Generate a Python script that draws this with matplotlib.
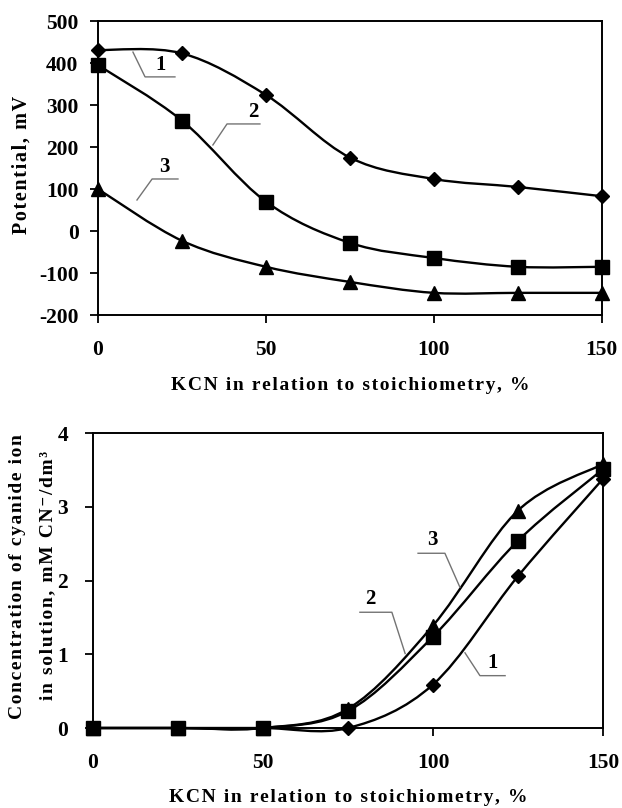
import numpy as np
import matplotlib
matplotlib.use("Agg")
import matplotlib.pyplot as plt
from matplotlib.path import Path
from matplotlib.patches import PathPatch

# data
kcn = [0, 25, 50, 75, 100, 125, 150]
potential_1 = [431, 423, 324, 175, 124, 105, 83]
potential_2 = [395, 263, 70, -28, -64, -85, -85]
potential_3 = [100, -23, -85, -121, -147, -147, -147]
cyanide_1 = [0, 0, 0, 0, 0.59, 2.06, 3.38]
cyanide_2 = [0, 0, 0, 0.23, 1.24, 2.54, 3.51]
cyanide_3 = [0, 0, 0, 0.26, 1.39, 2.95, 3.58]

markers = ["D", "s", "^"]
marker_sizes = [7, 10, 9.5]

serif = ["Liberation Serif", "DejaVu Serif"]
plt.rcParams["font.family"] = serif
plt.rcParams["font.weight"] = "bold"


def spaced(s):
    # imitate the wide letter spacing of the original labels
    return "\u200a".join(s)


def smooth_line(ax, x, y):
    # Excel-like smoothed line: cubic Bezier through the points
    pts = np.column_stack([x, y]).astype(float)
    n = len(pts)
    verts = [pts[0]]
    for i in range(n - 1):
        p0 = pts[max(i - 1, 0)]
        p1 = pts[i]
        p2 = pts[i + 1]
        p3 = pts[min(i + 2, n - 1)]
        verts += [p1 + (p2 - p0) / 6, p2 - (p3 - p1) / 6, p2]
    codes = [Path.MOVETO] + [Path.CURVE4] * 3 * (n - 1)
    ax.add_patch(PathPatch(Path(verts, codes), facecolor="none",
                           edgecolor="black", lw=1.7, clip_on=False))


def style_axes(ax, ylim, yticks, ypad):
    ax.set_xlim(0, 150)
    ax.set_ylim(*ylim)
    ax.set_xticks([0, 50, 100, 150])
    ax.set_yticks(yticks)
    ax.tick_params(direction="out", length=6, width=1.3, labelsize=15.5)
    ax.tick_params(axis="x", pad=12)
    ax.tick_params(axis="y", pad=ypad)
    for sp in ax.spines.values():
        sp.set_linewidth(1.4)


fig = plt.figure(figsize=(6.22, 8.08), dpi=100)

# top panel: potential
ax1 = fig.add_axes([0.1576, 0.610, 0.810, 0.364])
for ys, m, ms in zip([potential_1, potential_2, potential_3], markers, marker_sizes):
    smooth_line(ax1, kcn, ys)
    ax1.plot(kcn, ys, m, color="black", ms=ms, clip_on=False, zorder=3)
style_axes(ax1, (-200, 500), range(-200, 501, 100), 8)
ax1.set_yticklabels([str(v) for v in range(-200, 501, 100)])

# curve number leaders (top)
lead_col = "0.45"
ax1.plot([10.4, 14, 22.9], [426, 367, 367], color=lead_col, lw=1)
ax1.text(18.5, 372, "1", fontsize=15, ha="center", va="bottom")
ax1.plot([34.2, 38.4, 48.2], [205, 255, 255], color=lead_col, lw=1)
ax1.text(46.1, 259, "2", fontsize=15, ha="center", va="bottom")
ax1.plot([11.6, 16.1, 23.8], [74, 124, 124], color=lead_col, lw=1)
ax1.text(19.9, 128, "3", fontsize=15, ha="center", va="bottom")

fig.text(0.563, 1 - 386 / 808, spaced("KCN in relation to stoichiometry, %"),
         fontsize=14, ha="center", va="center")
fig.text(22 / 622, 1 - 165 / 808, spaced("Potential, mV"),
         fontsize=14.5, ha="center", va="center", rotation=90)

# bottom panel: cyanide concentration
ax2 = fig.add_axes([0.1495, 0.099, 0.820, 0.365])
for ys, m, ms in zip([cyanide_1, cyanide_3, cyanide_2],
                     [markers[0], markers[2], markers[1]],
                     [marker_sizes[0], marker_sizes[2], marker_sizes[1]]):
    smooth_line(ax2, kcn, ys)
    ax2.plot(kcn, ys, m, color="black", ms=ms, clip_on=False, zorder=3)
style_axes(ax2, (0, 4), [0, 1, 2, 3, 4], 12)

ax2.plot([95.6, 103.5, 107.9], [2.37, 2.37, 1.91], color=lead_col, lw=1)
ax2.text(99.7, 2.42, "3", fontsize=15, ha="center", va="bottom")
ax2.plot([78.5, 87.9, 91.8], [1.57, 1.57, 1.01], color=lead_col, lw=1)
ax2.text(81.5, 1.62, "2", fontsize=15, ha="center", va="bottom")
ax2.plot([109.4, 113.8, 121.2], [1.02, 0.71, 0.71], color=lead_col, lw=1)
ax2.text(117.6, 0.75, "1", fontsize=15, ha="center", va="bottom")

fig.text(0.560, 1 - 797 / 808, spaced("KCN in relation to stoichiometry, %"),
         fontsize=14, ha="center", va="center")
fig.text(18 / 622, 1 - 577 / 808, spaced("Concentration of cyanide ion"),
         fontsize=14, ha="center", va="center", rotation=90)
fig.text(48 / 622, 1 - 575 / 808, spaced("in solution, mM CN\u207b/dm\u00b3"),
         fontsize=14, ha="center", va="center", rotation=90)

fig.savefig("out.png", dpi=100)
